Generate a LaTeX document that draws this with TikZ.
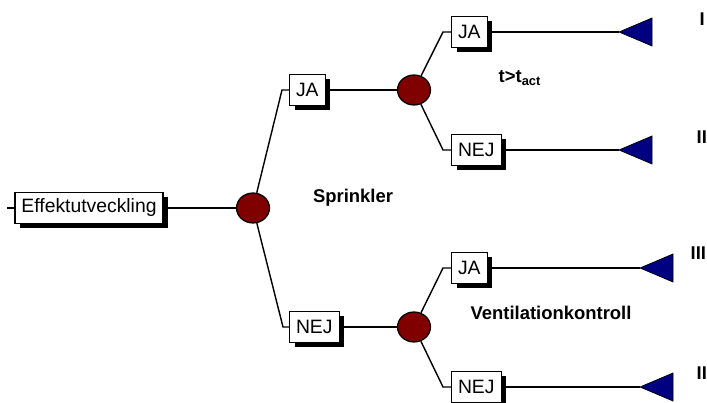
\documentclass[tikz,border=0pt]{standalone}
\usepackage{fontspec}
\setmainfont{Liberation Sans}
\usetikzlibrary{positioning,shapes.geometric,shadows}
\definecolor{chancered}{HTML}{800000}
\definecolor{endblue}{HTML}{000080}

\begin{document}
\begin{tikzpicture}[
  font=\fontsize{11}{13}\selectfont,
  line width=0.8pt,
  choice/.style={draw, line width=0.6pt, fill=white, inner xsep=3.7pt, inner ysep=0pt,
    minimum height=0.62cm,
    drop shadow={shadow xshift=0.1cm, shadow yshift=-0.1cm, fill=black, opacity=1}},
  chance/.style={ellipse, draw, line width=0.7pt, fill=chancered,
    minimum width=0.66cm, minimum height=0.6cm, inner sep=0pt},
  lbl/.style={font=\fontsize{10.5}{12}\selectfont\bfseries},
  outc/.style={lbl, inner sep=0pt, anchor=west},
  endpt/.style={draw, line width=0.4pt, fill=endblue}
]
\clip (0,0) rectangle (14.14,8.06);

% start
\coordinate (st) at (0.14,3.90);
\node[choice] (eff) at (1.78,3.90) {Effektutveckling};
\node[chance] (c1) at (5.06,3.90) {};
\draw (st) -- (eff);
\draw (eff) -- (c1);

% sprinkler JA / NEJ
\coordinate (b1) at (5.64,6.26);
\coordinate (b4) at (5.66,1.52);
\node[choice, anchor=west] (ja1) at (5.78,6.26) {JA};
\node[choice, anchor=west] (nej2) at (5.78,1.52) {NEJ};
\node[chance] (c2) at (8.28,6.26) {};
\node[chance] (c3) at (8.28,1.52) {};
\draw (c1) -- (b1) -- (ja1);
\draw (c1) -- (b4) -- (nej2);
\draw (ja1) -- (c2);
\draw (nej2) -- (c3);

% t > t_act
\coordinate (b2) at (8.86,7.42);
\coordinate (b3) at (8.86,5.06);
\node[choice, anchor=west] (ja2) at (9.02,7.42) {JA};
\node[choice, anchor=west] (nej1) at (9.02,5.06) {NEJ};
\draw (c2) -- (b2) -- (ja2);
\draw (c2) -- (b3) -- (nej1);

% ventilation
\coordinate (b5) at (8.86,2.70);
\coordinate (b6) at (8.86,0.32);
\node[choice, anchor=west] (ja3) at (9.02,2.70) {JA};
\node[choice, anchor=west] (nej3) at (9.02,0.32) {NEJ};
\draw (c3) -- (b5) -- (ja3);
\draw (c3) -- (b6) -- (nej3);

% end points
\coordinate (t1) at (12.38,7.42);
\coordinate (t2) at (12.38,5.06);
\coordinate (t3) at (12.80,2.70);
\coordinate (t4) at (12.80,0.32);
\draw (ja2) -- (t1);
\draw (nej1) -- (t2);
\draw (ja3) -- (t3);
\draw (nej3) -- (t4);
\foreach \t in {t1,t2,t3,t4}
  \draw[endpt] (\t) -- ++(0.66,0.28) -- ++(0,-0.56) -- cycle;

% labels
\node[lbl] (spr) at (7.06,4.10) {Sprinkler};
\node[lbl] (tact) at (10.40,6.50) {t>t\textsubscript{act}};
\node[lbl] (vent) at (11.02,1.80) {Ventilationkontroll};
\node[outc] (o1) at (13.98,7.67) {I};
\node[outc] (o2) at (13.92,5.32) {II};
\node[outc] (o3) at (13.80,3.00) {III};
\node[outc] (o4) at (13.92,0.59) {II};
\end{tikzpicture}
\end{document}
